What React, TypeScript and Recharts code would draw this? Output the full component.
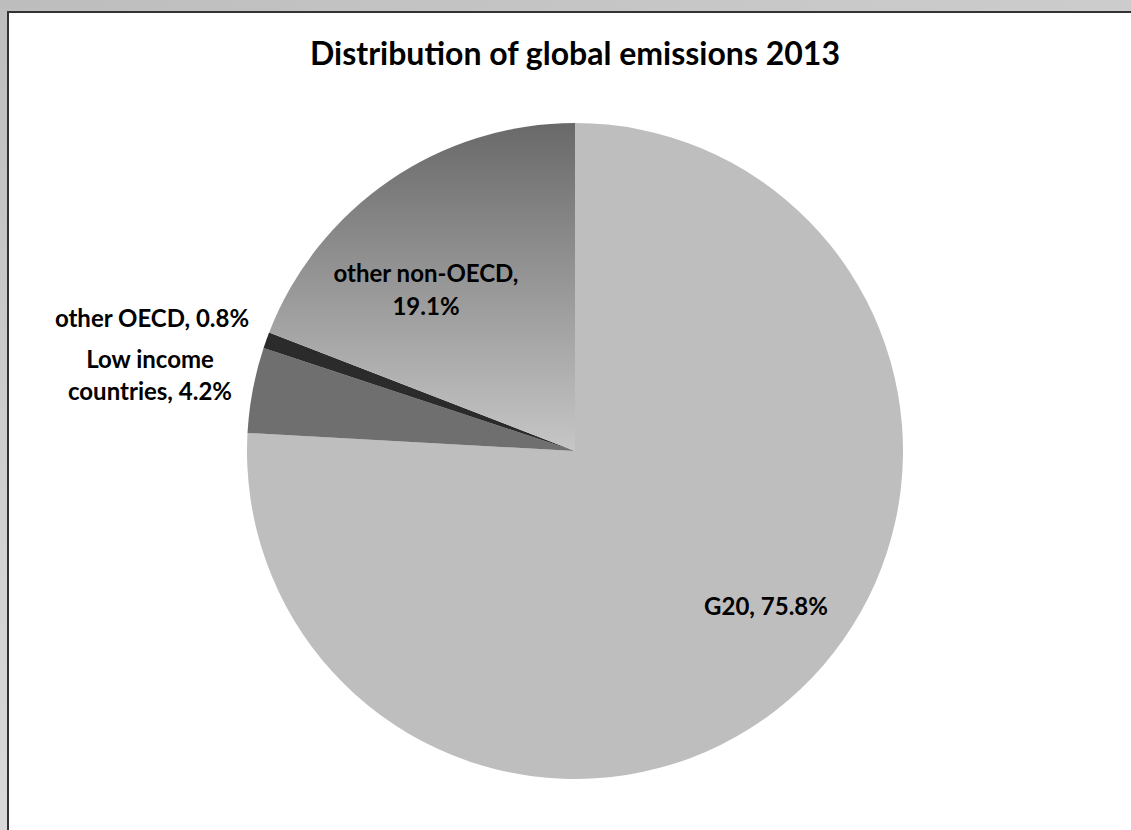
import React from "react";
import { PieChart, Pie, Cell } from "recharts";

const categories = ["G20", "Low income countries", "other OECD", "other non-OECD"];
const shares = [75.8, 4.2, 0.8, 19.1];
const labelLines = [
  ["G20, 75.8%"],
  ["Low income", "countries, 4.2%"],
  ["other OECD, 0.8%"],
  ["other non-OECD,", "19.1%"],
];

const data = categories.map((name, i) => ({ name, value: shares[i], lines: labelLines[i] }));

// colours per slice, the last one uses the vertical gradient
const fills = ["#bebebe", "#6f6f6f", "#2b2b2b", "url(#nonOecdGrad)"];

// where Excel dropped each label (first baseline), as pixel offsets from the pie centre
const labelPos: Record<string, { dx: number; dy: number; step: number }> = {
  G20: { dx: 191, dy: 164, step: 0 },
  "Low income countries": { dx: -425, dy: -83, step: 32 },
  "other OECD": { dx: -423, dy: -124, step: 0 },
  "other non-OECD": { dx: -149, dy: -169, step: 33 },
};

const FONT = "Lato, 'Open Sans', sans-serif";
const CX = 575;
const CY = 451;
const R = 328;

function renderLabel(props: any) {
  const { cx, cy, name, payload } = props;
  const pos = labelPos[name];
  if (!pos) return null;
  const lines: string[] = payload?.lines ?? (props.lines as string[]) ?? [name];
  return (
    <text
      x={cx + pos.dx}
      y={cy + pos.dy}
      textAnchor="middle"
      fill="#000"
      style={{ fontFamily: FONT, fontWeight: 700, fontSize: 24 }}
    >
      {lines.map((l, i) => (
        <tspan key={i} x={cx + pos.dx} dy={i === 0 ? 0 : pos.step}>
          {l}
        </tspan>
      ))}
    </text>
  );
}

export default function App() {
  return (
    <div
      style={{
        position: "absolute",
        left: 0,
        top: 0,
        width: 1131,
        height: 830,
        overflow: "hidden",
        background: "linear-gradient(160deg, #bdbdbd 0%, #d2d2d2 45%, #e2e2e2 100%)",
      }}
    >
      <div
        style={{
          position: "absolute",
          left: 7,
          top: 11,
          right: 0,
          bottom: 0,
          background: "#fff",
          borderTop: "2px solid #333",
          borderLeft: "2px solid #333",
        }}
      />
      <svg
        width={1131}
        height={100}
        style={{ position: "absolute", left: 0, top: 0 }}
      >
        <text
          x={CX}
          y={65}
          textAnchor="middle"
          fill="#000"
          style={{ fontFamily: FONT, fontWeight: 700, fontSize: 32 }}
        >
          Distribution of global emissions 2013
        </text>
      </svg>
      <div style={{ position: "absolute", left: 0, top: 0 }}>
        <PieChart width={1131} height={830} margin={{ top: 0, right: 0, bottom: 0, left: 0 }}>
          <defs>
            <linearGradient id="nonOecdGrad" x1="0" y1="0" x2="0" y2="1">
              <stop offset="0%" stopColor="#696969" />
              <stop offset="100%" stopColor="#c6c6c6" />
            </linearGradient>
          </defs>
          <Pie
            data={data}
            dataKey="value"
            nameKey="name"
            cx={CX}
            cy={CY}
            outerRadius={R}
            startAngle={90}
            endAngle={-270}
            stroke="none"
            label={renderLabel}
            labelLine={false}
            isAnimationActive={false}
          >
            {data.map((d, i) => (
              <Cell key={d.name} fill={fills[i]} />
            ))}
          </Pie>
        </PieChart>
      </div>
    </div>
  );
}
